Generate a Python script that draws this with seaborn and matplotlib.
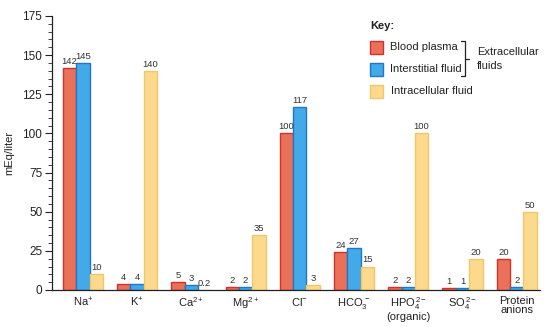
import matplotlib
matplotlib.use("Agg")
import matplotlib.pyplot as plt
import seaborn as sns
import pandas as pd
from matplotlib.patches import Rectangle
from matplotlib.lines import Line2D
from matplotlib.ticker import MultipleLocator

categories = ["Na$^{+}$", "K$^{+}$", "Ca$^{2+}$", "Mg$^{2+}$", "Cl$^{-}$",
              "HCO$_3^{\\,-}$", "HPO$_4^{\\,2-}$\n(organic)", "SO$_4^{\\,2-}$",
              "Protein\nanions"]
blood_plasma = [142, 4, 5, 2, 100, 24, 2, 1, 20]
interstitial = [145, 4, 3, 2, 117, 27, 2, 1, 2]
intracellular = [10, 140, 0.2, 35, 3, 15, 100, 20, 50]
series_names = ["Blood plasma", "Interstitial fluid", "Intracellular fluid"]

fills = ["#EA7159", "#43A9E8", "#FDD98D"]
edges = ["#D5312B", "#1E78C6", "#F2C66C"]

sns.set_theme(style="white")
plt.rcParams['font.family'] = ['Liberation Sans', 'DejaVu Sans']
plt.rcParams['mathtext.fontset'] = 'custom'
plt.rcParams['mathtext.rm'] = 'Liberation Sans'
plt.rcParams['mathtext.it'] = 'Liberation Sans:italic'
plt.rcParams['mathtext.bf'] = 'Liberation Sans:bold'

rows = []
for name, vals in zip(series_names, [blood_plasma, interstitial, intracellular]):
    for c, v in zip(categories, vals):
        rows.append({"ion": c, "fluid": name, "value": v})
df = pd.DataFrame(rows)

fig = plt.figure(figsize=(5.44, 3.27), dpi=100)
ax = fig.add_axes([52/544, 1-290/327, (540-52)/544, (290-16)/327])

sns.barplot(data=df, x="ion", y="value", hue="fluid", hue_order=series_names,
            order=categories, palette=fills, width=0.74, gap=0, ax=ax,
            legend=False, saturation=1)

for cont, ec in zip(ax.containers, edges):
    for p in cont:
        p.set_edgecolor(ec)
        p.set_linewidth(1.0)
    labels = [("%g" % p.get_height()) for p in cont]
    ax.bar_label(cont, labels=labels, padding=1.5, fontsize=6.8, color="#333333")

ax.set_ylim(0, 175)
ax.set_xlim(-0.57, 8.43)
ax.yaxis.set_major_locator(MultipleLocator(25))
ax.yaxis.set_minor_locator(MultipleLocator(5))
ax.tick_params(axis="y", which="major", direction="out", length=5, width=0.8,
               left=True, labelsize=8.5, colors="#222222", pad=2)
ax.tick_params(axis="y", which="minor", direction="out", length=3, width=0.6, left=True)
ax.tick_params(axis="x", length=0, labelsize=8, colors="#222222", pad=4)
for t in ax.get_xticklabels():
    t.set_linespacing(0.9)
ax.set_xlabel("")
ax.set_ylabel("mEq/liter", fontsize=8, color="#222222", labelpad=6)
for s in ["top", "right"]:
    ax.spines[s].set_visible(False)
for s in ["left", "bottom"]:
    ax.spines[s].set_color("#222222")
    ax.spines[s].set_linewidth(0.9)

# Key
W, H = 544, 327
def fx(x): return x / W
def fy(y): return 1 - y / H

fig.text(fx(370), fy(26), "Key:", fontsize=8, fontweight="bold", va="center", ha="left", color="#222222")
for (y0, fc, ec, lab, tx) in [(41, fills[0], edges[0], "Blood plasma", 390),
                               (63, fills[1], edges[1], "Interstitial fluid", 390),
                               (85, fills[2], edges[2], "Intracellular fluid", 391)]:
    fig.patches.append(Rectangle((fx(370), fy(y0 + 13)), 13/W, 13/H, facecolor=fc,
                                 edgecolor=ec, linewidth=1.0, transform=fig.transFigure))
    fig.text(fx(tx), fy(y0 + 6.5), lab, fontsize=8, va="center", ha="left", color="#222222")

bx0, bx1 = 461, 465
fig.lines.append(Line2D([fx(bx0), fx(bx1), fx(bx1), fx(bx0)],
                        [fy(41), fy(41), fy(76), fy(76)], color="#222222", lw=0.9,
                        transform=fig.transFigure))
fig.lines.append(Line2D([fx(bx1), fx(bx1 + 4)], [fy(59), fy(59)], color="#222222", lw=0.9,
                        transform=fig.transFigure))
fig.text(fx(477), fy(52), "Extracellular", fontsize=8, va="center", ha="left", color="#222222")
fig.text(fx(477), fy(66), "fluids", fontsize=8, va="center", ha="left", color="#222222")

fig.savefig("out.png", dpi=100)
